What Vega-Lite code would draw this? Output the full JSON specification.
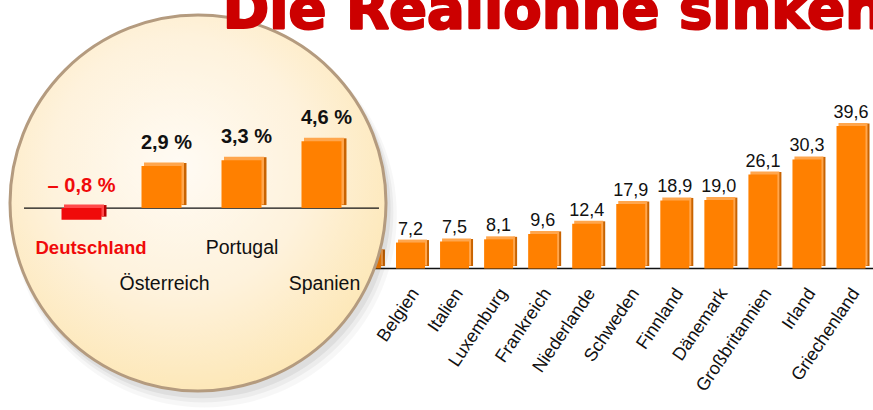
{
  "$schema": "https://vega.github.io/schema/vega-lite/v6.json",
  "width": 873,
  "height": 410,
  "padding": 0,
  "autosize": "none",
  "background": "#ffffff",
  "config": {"view": {"stroke": null}, "axis": {"disable": true}},
  "datasets": {
    "loehne": [
      {"land": "Deutschland", "wert": -0.8, "label": "– 0,8 %"},
      {"land": "Österreich", "wert": 2.9, "label": "2,9 %"},
      {"land": "Portugal", "wert": 3.3, "label": "3,3 %"},
      {"land": "Spanien", "wert": 4.6, "label": "4,6 %"},
      {"land": "Belgien", "wert": 7.2, "label": "7,2"},
      {"land": "Italien", "wert": 7.5, "label": "7,5"},
      {"land": "Luxemburg", "wert": 8.1, "label": "8,1"},
      {"land": "Frankreich", "wert": 9.6, "label": "9,6"},
      {"land": "Niederlande", "wert": 12.4, "label": "12,4"},
      {"land": "Schweden", "wert": 17.9, "label": "17,9"},
      {"land": "Finnland", "wert": 18.9, "label": "18,9"},
      {"land": "Dänemark", "wert": 19.0, "label": "19,0"},
      {"land": "Großbritannien", "wert": 26.1, "label": "26,1"},
      {"land": "Irland", "wert": 30.3, "label": "30,3"},
      {"land": "Griechenland", "wert": 39.6, "label": "39,6"}
    ],
    "lupe": [{"name": "Lupe"}],
    "titel": [{"text": "Die Reallöhne sinken"}]
  },
  "data": {"name": "loehne"},
  "resolve": {"scale": {"x": "independent", "y": "independent", "color": "independent"}},
  "layer": [
    {
      "data": {"name": "lupe"},
      "mark": {"type": "rule", "color": "#111111", "strokeWidth": 1.5, "x2Offset": 8},
      "encoding": {
        "x": {"datum": "Deutschland", "type": "nominal", "bandPosition": 0, "scale": {"type": "band", "domain": ["Deutschland", "Österreich", "Portugal", "Spanien", "Belgien", "Italien", "Luxemburg", "Frankreich", "Niederlande", "Schweden", "Finnland", "Dänemark", "Großbritannien", "Irland", "Griechenland"], "range": [219.8, 865.5], "paddingInner": 0.342, "paddingOuter": 0}},
        "x2": {"datum": "Griechenland", "bandPosition": 1},
        "y": {"datum": 0, "type": "quantitative", "scale": {"domain": [-39.31, 74.58], "nice": false, "zero": false}}
      }
    },
    {
      "mark": {"type": "bar", "width": 4, "xOffset": 16.5, "yOffset": -2.5, "y2Offset": -2.5, "color": "#c96300"},
      "encoding": {
        "x": {"field": "land", "type": "nominal", "sort": null, "scale": {"type": "band", "domain": ["Deutschland", "Österreich", "Portugal", "Spanien", "Belgien", "Italien", "Luxemburg", "Frankreich", "Niederlande", "Schweden", "Finnland", "Dänemark", "Großbritannien", "Irland", "Griechenland"], "range": [219.8, 865.5], "paddingInner": 0.342, "paddingOuter": 0}},
        "y": {"field": "wert", "type": "quantitative", "scale": {"domain": [-39.31, 74.58], "nice": false, "zero": false}},
        "y2": {"datum": 0}
      }
    },
    {
      "mark": {"type": "bar", "xOffset": 2, "yOffset": -3, "y2Offset": -3, "color": "#ffa64d"},
      "encoding": {
        "x": {"field": "land", "type": "nominal", "sort": null, "scale": {"type": "band", "domain": ["Deutschland", "Österreich", "Portugal", "Spanien", "Belgien", "Italien", "Luxemburg", "Frankreich", "Niederlande", "Schweden", "Finnland", "Dänemark", "Großbritannien", "Irland", "Griechenland"], "range": [219.8, 865.5], "paddingInner": 0.342, "paddingOuter": 0}},
        "y": {"field": "wert", "type": "quantitative", "scale": {"domain": [-39.31, 74.58], "nice": false, "zero": false}},
        "y2": {"datum": 0}
      }
    },
    {
      "mark": {"type": "bar", "color": "#ff8000"},
      "encoding": {
        "x": {"field": "land", "type": "nominal", "sort": null, "scale": {"type": "band", "domain": ["Deutschland", "Österreich", "Portugal", "Spanien", "Belgien", "Italien", "Luxemburg", "Frankreich", "Niederlande", "Schweden", "Finnland", "Dänemark", "Großbritannien", "Irland", "Griechenland"], "range": [219.8, 865.5], "paddingInner": 0.342, "paddingOuter": 0}},
        "y": {"field": "wert", "type": "quantitative", "scale": {"domain": [-39.31, 74.58], "nice": false, "zero": false}},
        "y2": {"datum": 0}
      }
    },
    {
      "transform": [{"filter": {"not": {"field": "land", "oneOf": ["Deutschland", "Österreich", "Portugal", "Spanien"]}}}],
      "mark": {"type": "text", "baseline": "alphabetic", "align": "center", "yOffset": -8, "font": "Liberation Sans", "fontSize": 18, "color": "#111111"},
      "encoding": {
        "x": {"field": "land", "type": "nominal", "sort": null, "scale": {"type": "band", "domain": ["Deutschland", "Österreich", "Portugal", "Spanien", "Belgien", "Italien", "Luxemburg", "Frankreich", "Niederlande", "Schweden", "Finnland", "Dänemark", "Großbritannien", "Irland", "Griechenland"], "range": [219.8, 865.5], "paddingInner": 0.342, "paddingOuter": 0}},
        "y": {"field": "wert", "type": "quantitative", "scale": {"domain": [-39.31, 74.58], "nice": false, "zero": false}},
        "text": {"field": "label"}
      }
    },
    {
      "transform": [{"filter": {"not": {"field": "land", "oneOf": ["Deutschland", "Österreich", "Portugal", "Spanien"]}}}],
      "mark": {"type": "text", "baseline": "middle", "align": "right", "angle": -56, "xOffset": 5, "yOffset": 22, "font": "Liberation Sans", "fontSize": 18, "color": "#111111"},
      "encoding": {
        "x": {"field": "land", "type": "nominal", "sort": null, "scale": {"type": "band", "domain": ["Deutschland", "Österreich", "Portugal", "Spanien", "Belgien", "Italien", "Luxemburg", "Frankreich", "Niederlande", "Schweden", "Finnland", "Dänemark", "Großbritannien", "Irland", "Griechenland"], "range": [219.8, 865.5], "paddingInner": 0.342, "paddingOuter": 0}},
        "y": {"datum": 0, "type": "quantitative", "scale": {"domain": [-39.31, 74.58], "nice": false, "zero": false}},
        "text": {"field": "land"}
      }
    },
    {
      "data": {"name": "lupe"},
      "mark": {"type": "point", "shape": "circle", "filled": true, "color": "#000000", "opacity": 0.03, "size": 148000, "xOffset": 23, "yOffset": 7},
      "encoding": {
        "x": {"datum": "Österreich", "type": "nominal", "bandPosition": 1, "scale": {"type": "band", "domain": ["Deutschland", "Österreich", "Portugal", "Spanien"], "range": [24, 379], "paddingInner": 0.5, "paddingOuter": 0.469}},
        "y": {"datum": 0, "type": "quantitative", "scale": {"domain": [-13.93, 14.35], "nice": false, "zero": false}}
      }
    },
    {
      "data": {"name": "lupe"},
      "mark": {"type": "point", "shape": "circle", "filled": true, "color": "#000000", "opacity": 0.045, "size": 145000, "xOffset": 21.5, "yOffset": 4},
      "encoding": {
        "x": {"datum": "Österreich", "type": "nominal", "bandPosition": 1, "scale": {"type": "band", "domain": ["Deutschland", "Österreich", "Portugal", "Spanien"], "range": [24, 379], "paddingInner": 0.5, "paddingOuter": 0.469}},
        "y": {"datum": 0, "type": "quantitative", "scale": {"domain": [-13.93, 14.35], "nice": false, "zero": false}}
      }
    },
    {
      "data": {"name": "lupe"},
      "mark": {"type": "point", "shape": "circle", "filled": true, "color": "#000000", "opacity": 0.06, "size": 143000, "xOffset": 20, "yOffset": 1},
      "encoding": {
        "x": {"datum": "Österreich", "type": "nominal", "bandPosition": 1, "scale": {"type": "band", "domain": ["Deutschland", "Österreich", "Portugal", "Spanien"], "range": [24, 379], "paddingInner": 0.5, "paddingOuter": 0.469}},
        "y": {"datum": 0, "type": "quantitative", "scale": {"domain": [-13.93, 14.35], "nice": false, "zero": false}}
      }
    },
    {
      "data": {"name": "lupe"},
      "mark": {
        "type": "point", "shape": "circle", "filled": true, "opacity": 1, "size": 141376, "xOffset": 16.5, "yOffset": -5,
        "fill": {"gradient": "radial", "x1": 0.45, "y1": 0.4, "r1": 0, "x2": 0.45, "y2": 0.4, "r2": 0.62, "stops": [{"offset": 0, "color": "#fffbf4"}, {"offset": 0.55, "color": "#fef2dc"}, {"offset": 1, "color": "#fde7b6"}]},
        "stroke": "#b49b7f", "strokeWidth": 3
      },
      "encoding": {
        "x": {"datum": "Österreich", "type": "nominal", "bandPosition": 1, "scale": {"type": "band", "domain": ["Deutschland", "Österreich", "Portugal", "Spanien"], "range": [24, 379], "paddingInner": 0.5, "paddingOuter": 0.469}},
        "y": {"datum": 0, "type": "quantitative", "scale": {"domain": [-13.93, 14.35], "nice": false, "zero": false}}
      }
    },
    {
      "data": {"name": "lupe"},
      "mark": {"type": "rule", "color": "#111111", "strokeWidth": 1.3, "xOffset": -37.5, "x2Offset": 37.5},
      "encoding": {
        "x": {"datum": "Deutschland", "type": "nominal", "bandPosition": 0, "scale": {"type": "band", "domain": ["Deutschland", "Österreich", "Portugal", "Spanien"], "range": [24, 379], "paddingInner": 0.5, "paddingOuter": 0.469}},
        "x2": {"datum": "Spanien", "bandPosition": 1},
        "y": {"datum": 0, "type": "quantitative", "scale": {"domain": [-13.93, 14.35], "nice": false, "zero": false}}
      }
    },
    {
      "transform": [{"filter": {"field": "land", "oneOf": ["Deutschland", "Österreich", "Portugal", "Spanien"]}}],
      "mark": {"type": "bar", "width": 5, "xOffset": 22.5, "yOffset": -3, "y2Offset": -3},
      "encoding": {
        "x": {"field": "land", "type": "nominal", "sort": null, "scale": {"type": "band", "domain": ["Deutschland", "Österreich", "Portugal", "Spanien"], "range": [24, 379], "paddingInner": 0.5, "paddingOuter": 0.469}},
        "y": {"field": "wert", "type": "quantitative", "scale": {"domain": [-13.93, 14.35], "nice": false, "zero": false}},
        "y2": {"datum": 0},
        "color": {"condition": {"test": "datum.land === 'Deutschland'", "value": "#b80000"}, "value": "#c96300"}
      }
    },
    {
      "transform": [{"filter": {"field": "land", "oneOf": ["Deutschland", "Österreich", "Portugal", "Spanien"]}}],
      "mark": {"type": "bar", "xOffset": 2.5, "yOffset": -3.5, "y2Offset": -3.5},
      "encoding": {
        "x": {"field": "land", "type": "nominal", "sort": null, "scale": {"type": "band", "domain": ["Deutschland", "Österreich", "Portugal", "Spanien"], "range": [24, 379], "paddingInner": 0.5, "paddingOuter": 0.469}},
        "y": {"field": "wert", "type": "quantitative", "scale": {"domain": [-13.93, 14.35], "nice": false, "zero": false}},
        "y2": {"datum": 0},
        "color": {"condition": {"test": "datum.land === 'Deutschland'", "value": "#ff4a4a"}, "value": "#ffa64d"}
      }
    },
    {
      "transform": [{"filter": {"field": "land", "oneOf": ["Deutschland", "Österreich", "Portugal", "Spanien"]}}],
      "mark": {"type": "bar"},
      "encoding": {
        "x": {"field": "land", "type": "nominal", "sort": null, "scale": {"type": "band", "domain": ["Deutschland", "Österreich", "Portugal", "Spanien"], "range": [24, 379], "paddingInner": 0.5, "paddingOuter": 0.469}},
        "y": {"field": "wert", "type": "quantitative", "scale": {"domain": [-13.93, 14.35], "nice": false, "zero": false}},
        "y2": {"datum": 0},
        "color": {"condition": {"test": "datum.land === 'Deutschland'", "value": "#f00a0a"}, "value": "#ff8000"}
      }
    },
    {
      "transform": [{"filter": {"field": "land", "oneOf": ["Österreich", "Portugal", "Spanien"]}}],
      "mark": {"type": "text", "baseline": "alphabetic", "align": "center", "xOffset": 5, "yOffset": -17, "font": "Liberation Sans", "fontWeight": "bold", "fontSize": 20, "color": "#111111"},
      "encoding": {
        "x": {"field": "land", "type": "nominal", "sort": null, "scale": {"type": "band", "domain": ["Deutschland", "Österreich", "Portugal", "Spanien"], "range": [24, 379], "paddingInner": 0.5, "paddingOuter": 0.469}},
        "y": {"field": "wert", "type": "quantitative", "scale": {"domain": [-13.93, 14.35], "nice": false, "zero": false}},
        "text": {"field": "label"}
      }
    },
    {
      "transform": [{"filter": {"field": "land", "equal": "Deutschland"}}],
      "mark": {"type": "text", "baseline": "alphabetic", "align": "center", "xOffset": 0, "yOffset": -16, "font": "Liberation Sans", "fontWeight": "bold", "fontSize": 20, "color": "#f00a0a"},
      "encoding": {
        "x": {"field": "land", "type": "nominal", "sort": null, "scale": {"type": "band", "domain": ["Deutschland", "Österreich", "Portugal", "Spanien"], "range": [24, 379], "paddingInner": 0.5, "paddingOuter": 0.469}},
        "y": {"datum": 0, "type": "quantitative", "scale": {"domain": [-13.93, 14.35], "nice": false, "zero": false}},
        "text": {"field": "label"}
      }
    },
    {
      "transform": [{"filter": {"field": "land", "equal": "Deutschland"}}],
      "mark": {"type": "text", "baseline": "alphabetic", "align": "center", "xOffset": 9.5, "yOffset": 46, "font": "Liberation Sans", "fontWeight": "bold", "fontSize": 18.5, "color": "#f00a0a"},
      "encoding": {
        "x": {"field": "land", "type": "nominal", "sort": null, "scale": {"type": "band", "domain": ["Deutschland", "Österreich", "Portugal", "Spanien"], "range": [24, 379], "paddingInner": 0.5, "paddingOuter": 0.469}},
        "y": {"datum": 0, "type": "quantitative", "scale": {"domain": [-13.93, 14.35], "nice": false, "zero": false}},
        "text": {"field": "land"}
      }
    },
    {
      "transform": [{"filter": {"field": "land", "equal": "Portugal"}}],
      "mark": {"type": "text", "baseline": "alphabetic", "align": "center", "xOffset": 0.5, "yOffset": 46, "font": "Liberation Sans", "fontSize": 19.5, "color": "#111111"},
      "encoding": {
        "x": {"field": "land", "type": "nominal", "sort": null, "scale": {"type": "band", "domain": ["Deutschland", "Österreich", "Portugal", "Spanien"], "range": [24, 379], "paddingInner": 0.5, "paddingOuter": 0.469}},
        "y": {"datum": 0, "type": "quantitative", "scale": {"domain": [-13.93, 14.35], "nice": false, "zero": false}},
        "text": {"field": "land"}
      }
    },
    {
      "transform": [{"filter": {"field": "land", "oneOf": ["Österreich", "Spanien"]}}],
      "mark": {"type": "text", "baseline": "alphabetic", "align": "center", "xOffset": 3, "yOffset": 82, "font": "Liberation Sans", "fontSize": 19.5, "color": "#111111"},
      "encoding": {
        "x": {"field": "land", "type": "nominal", "sort": null, "scale": {"type": "band", "domain": ["Deutschland", "Österreich", "Portugal", "Spanien"], "range": [24, 379], "paddingInner": 0.5, "paddingOuter": 0.469}},
        "y": {"datum": 0, "type": "quantitative", "scale": {"domain": [-13.93, 14.35], "nice": false, "zero": false}},
        "text": {"field": "land"}
      }
    },
    {
      "data": {"name": "titel"},
      "mark": {"type": "text", "baseline": "alphabetic", "align": "left", "xOffset": 3, "font": "DejaVu Sans", "fontWeight": "bold", "fontSize": 56, "color": "#cc0000", "stroke": "#cc0000", "strokeWidth": 2.2, "strokeJoin": "round"},
      "encoding": {
        "x": {"datum": "Deutschland", "type": "nominal", "bandPosition": 0, "scale": {"type": "band", "domain": ["Deutschland", "Österreich", "Portugal", "Spanien", "Belgien", "Italien", "Luxemburg", "Frankreich", "Niederlande", "Schweden", "Finnland", "Dänemark", "Großbritannien", "Irland", "Griechenland"], "range": [219.8, 865.5], "paddingInner": 0.342, "paddingOuter": 0}},
        "y": {"datum": 66.8, "type": "quantitative", "scale": {"domain": [-39.31, 74.58], "nice": false, "zero": false}},
        "text": {"field": "text"}
      }
    }
  ]
}
